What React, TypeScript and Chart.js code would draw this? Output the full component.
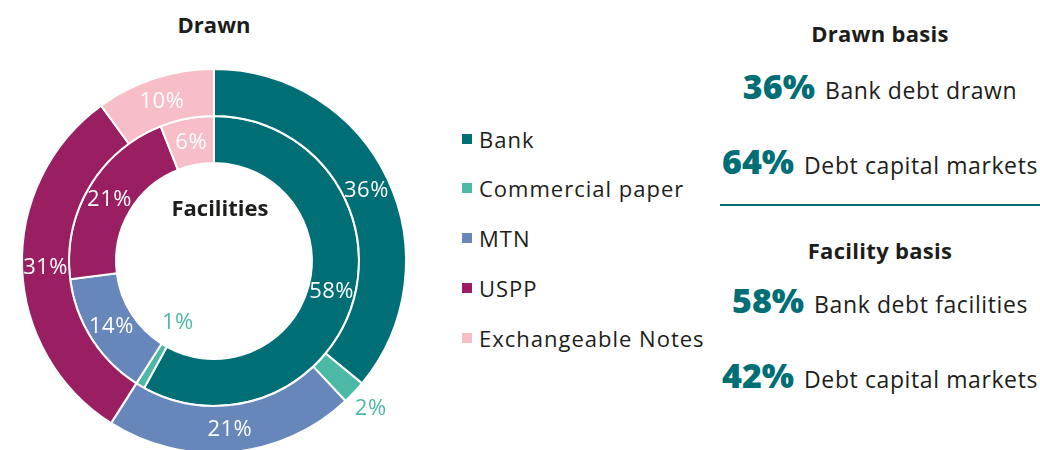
import React, { useEffect, useRef } from "react";
import { Chart, registerables } from "chart.js";

Chart.register(...registerables);

const categories = ["Bank", "Commercial paper", "MTN", "USPP", "Exchangeable Notes"];
const drawnValues = [36, 2, 21, 31, 10];
const facilityValues = [58, 1, 14, 21, 6];
const seriesColors = ["#006e75", "#4cb9a7", "#6786b9", "#9a1e62", "#f7bec8"];

const drawnBasisValues = ["36%", "64%"];
const drawnBasisLabels = ["Bank debt drawn", "Debt capital markets"];
const facilityBasisValues = ["58%", "42%"];
const facilityBasisLabels = ["Bank debt facilities", "Debt capital markets"];

const FONT = "'Open Sans', sans-serif";
const TEAL = "#006e75";
const TEXT = "#1d1d1b";

const ringLabels = {
  id: "ringLabels",
  afterDatasetsDraw(chart: any) {
    const ctx = chart.ctx;
    ctx.save();
    ctx.font = `400 22px ${FONT}`;
    try {
      (ctx as any).letterSpacing = "0.5px";
    } catch (e) {}
    ctx.textAlign = "center";
    ctx.textBaseline = "middle";
    chart.data.datasets.forEach((ds: any, di: number) => {
      const meta = chart.getDatasetMeta(di);
      meta.data.forEach((arc: any, i: number) => {
        const v = ds.data[i];
        const p = arc.getProps(["x", "y", "startAngle", "endAngle", "innerRadius", "outerRadius"], true);
        const mid = (p.startAngle + p.endAngle) / 2;
        let r: number;
        let color: string;
        if (v < 5) {
          r = di === 0 ? p.outerRadius + 23 : p.innerRadius - 27;
          color = seriesColors[i];
        } else {
          r = (p.innerRadius + p.outerRadius) / 2;
          color = "#ffffff";
        }
        ctx.fillStyle = color;
        ctx.fillText(v + "%", p.x + r * Math.cos(mid), p.y + r * Math.sin(mid) + 1);
      });
    });
    ctx.restore();
  },
};

function DonutChart() {
  const ref = useRef<HTMLCanvasElement | null>(null);
  useEffect(() => {
    if (!ref.current) return;
    const chart = new Chart(ref.current, {
      type: "doughnut",
      data: {
        labels: categories,
        datasets: [
          {
            label: "Drawn",
            data: drawnValues,
            backgroundColor: seriesColors,
            borderColor: "#ffffff",
            borderWidth: 2,
            hoverOffset: 0,
          },
          {
            label: "Facilities",
            data: facilityValues,
            backgroundColor: seriesColors,
            borderColor: "#ffffff",
            borderWidth: 2,
            hoverOffset: 0,
          },
        ],
      },
      options: {
        animation: false,
        responsive: false,
        maintainAspectRatio: false,
        cutout: "51%",
        layout: { padding: 7 },
        plugins: {
          legend: { display: false },
          tooltip: { enabled: false },
          title: { display: false },
        },
        events: [],
      },
      plugins: [ringLabels],
    } as any);
    return () => chart.destroy();
  }, []);
  return (
    <canvas
      ref={ref}
      width={400}
      height={400}
      style={{ position: "absolute", left: 14, top: 61, width: 400, height: 400 }}
    />
  );
}

function Row({ value, label, top }: { value: string; label: string; top: number }) {
  return (
    <div
      style={{
        position: "absolute",
        left: 700,
        width: 360,
        top,
        height: 44,
        lineHeight: "44px",
        textAlign: "center",
        whiteSpace: "nowrap",
      }}
    >
      <span style={{ fontWeight: 800, fontSize: 34, color: TEAL }}>{value}</span>
      <span style={{ fontSize: 23, letterSpacing: 0.6, color: TEXT, marginLeft: 10 }}>{label}</span>
    </div>
  );
}

const headStyle: any = {
  position: "absolute",
  left: 700,
  width: 360,
  height: 28,
  lineHeight: "28px",
  textAlign: "center",
  fontWeight: 700,
  fontSize: 22,
  letterSpacing: 0.3,
};

export default function App() {
  const legendTops = [139, 188, 238, 288, 338];
  return (
    <div
      style={{
        position: "fixed",
        left: 0,
        top: 0,
        width: 1040,
        height: 450,
        overflow: "hidden",
        background: "#ffffff",
        fontFamily: FONT,
        color: TEXT,
      }}
    >
      <DonutChart />
      <div
        style={{
          position: "absolute",
          left: 114,
          width: 200,
          top: 10,
          height: 28,
          lineHeight: "28px",
          textAlign: "center",
          fontWeight: 700,
          fontSize: 22,
        }}
      >
        Drawn
      </div>
      <div
        style={{
          position: "absolute",
          left: 120,
          width: 200,
          top: 193,
          height: 28,
          lineHeight: "28px",
          textAlign: "center",
          fontWeight: 700,
          fontSize: 22,
        }}
      >
        Facilities
      </div>
      {categories.map((c, i) => (
        <div key={c} style={{ position: "absolute", left: 462, top: legendTops[i] - 14, height: 28 }}>
          <div
            style={{
              position: "absolute",
              left: 0,
              top: 9,
              width: 10,
              height: 10,
              background: seriesColors[i],
            }}
          />
          <div
            style={{
              position: "absolute",
              left: 17,
              top: 0,
              height: 28,
              lineHeight: "28px",
              fontSize: 22,
              letterSpacing: 1,
              whiteSpace: "nowrap",
            }}
          >
            {c}
          </div>
        </div>
      ))}
      <div style={{ ...headStyle, top: 19 }}>Drawn basis</div>
      {drawnBasisValues.map((v, i) => (
        <Row key={"d" + i} value={v} label={drawnBasisLabels[i]} top={64 + i * 75} />
      ))}
      <div style={{ position: "absolute", left: 720, top: 204, width: 320, height: 1.5, background: TEAL }} />
      <div style={{ ...headStyle, top: 236 }}>Facility basis</div>
      {facilityBasisValues.map((v, i) => (
        <Row key={"f" + i} value={v} label={facilityBasisLabels[i]} top={278 + i * 75} />
      ))}
    </div>
  );
}
